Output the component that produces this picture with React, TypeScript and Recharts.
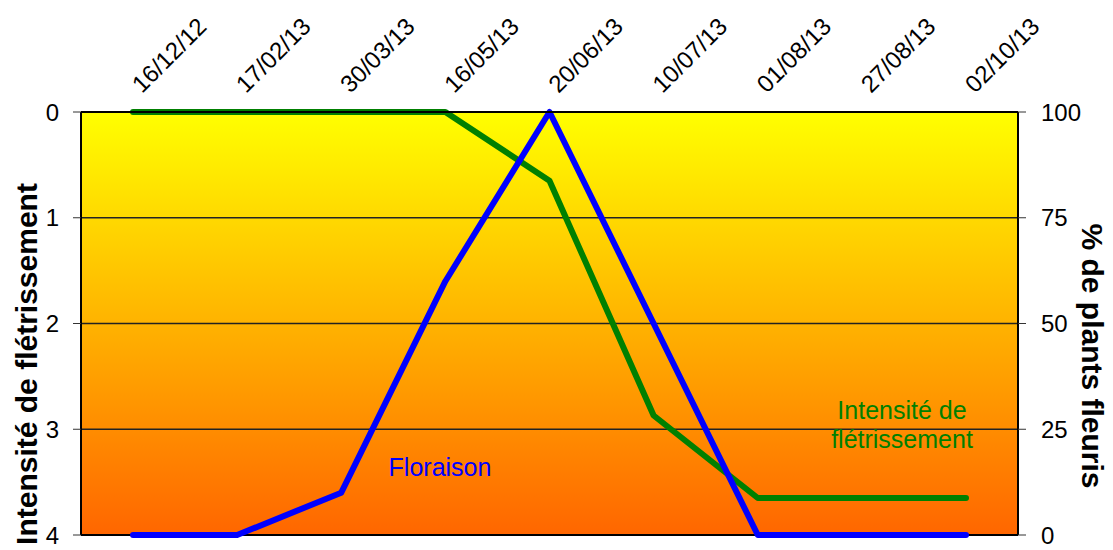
import { LineChart, Line, XAxis, YAxis, CartesianGrid, ReferenceLine, Customized } from "recharts"

const dates = ["16/12/12", "17/02/13", "30/03/13", "16/05/13", "20/06/13", "10/07/13", "01/08/13", "27/08/13", "02/10/13"]
const fletrissement = [0, 0, 0, 0, 0.65, 2.87, 3.65, 3.65, 3.65]
const floraison = [0, 0, 10, 60, 100, 50, 0, 0, 0]
const leftTicks = [0, 1, 2, 3, 4]
const rightTicks = [0, 25, 50, 75, 100]

const data = dates.map((date, i) => ({
  date,
  fletrissement: fletrissement[i],
  floraison: floraison[i],
}))

const FONT = "'Liberation Sans', Arial, sans-serif"

// rotated date labels above the plot
const DateTick = ({ x, y, payload }: any) => {
  const tx = x + 9
  const ty = y - 10
  return (
    <text
      x={tx}
      y={ty}
      transform={`rotate(-45, ${tx}, ${ty})`}
      textAnchor="start"
      fontSize={24}
      fontFamily={FONT}
      fill="#000"
    >
      {payload.value}
    </text>
  )
}

const Annotations = () => (
  <g fontFamily={FONT}>
    <text x={37} y={364} transform="rotate(-90, 37, 364)" textAnchor="middle" fontSize={30} fontWeight="bold" fill="#000">
      Intensité de flétrissement
    </text>
    <text x={1082} y={356} transform="rotate(90, 1082, 356)" textAnchor="middle" fontSize={30} fontWeight="bold" fill="#000">
      % de plants fleuris
    </text>
    <text x={440} y={476} textAnchor="middle" fontSize={25} fill="#0000ff">
      Floraison
    </text>
    <text x={902} y={419} textAnchor="middle" fontSize={25} fill="#008000">
      Intensité de
    </text>
    <text x={902} y={448} textAnchor="middle" fontSize={25} fill="#008000">
      flétrissement
    </text>
  </g>
)

export default function App() {
  return (
    <div style={{ position: "absolute", left: 0, top: 0, width: 1113, height: 550, background: "#fff" }}>
      <LineChart width={1113} height={550} data={data} margin={{ top: 32, right: 35, bottom: 15, left: 21 }}>
        <defs>
          <linearGradient id="bg" x1="0" y1="0" x2="0" y2="1">
            <stop offset="0%" stopColor="#ffff00" />
            <stop offset="100%" stopColor="#ff6600" />
          </linearGradient>
        </defs>
        <CartesianGrid
          yAxisId="left"
          vertical={false}
          stroke="#222"
          strokeWidth={1.3}
          fill="url(#bg)"
          fillOpacity={1}
        />
        <XAxis
          dataKey="date"
          orientation="top"
          height={80}
          padding={{ left: 52, right: 52 }}
          tickLine={false}
          axisLine={{ stroke: "#000", strokeWidth: 2 }}
          tick={<DateTick />}
          interval={0}
        />
        <YAxis
          yAxisId="left"
          domain={[0, 4]}
          ticks={leftTicks}
          reversed
          width={60}
          tickSize={8}
          tickMargin={14}
          tickLine={{ stroke: "#333" }}
          axisLine={{ stroke: "#000", strokeWidth: 2 }}
          tick={{ fill: "#000", fontSize: 24, fontFamily: FONT }}
        />
        <YAxis
          yAxisId="right"
          orientation="right"
          domain={[0, 100]}
          ticks={rightTicks}
          width={60}
          tickSize={8}
          tickMargin={15}
          tickLine={{ stroke: "#333" }}
          axisLine={{ stroke: "#000", strokeWidth: 2 }}
          tick={{ fill: "#000", fontSize: 24, fontFamily: FONT }}
        />
        <ReferenceLine yAxisId="left" y={4} stroke="#000" strokeWidth={2} />
        <Line
          yAxisId="left"
          dataKey="fletrissement"
          stroke="#008000"
          strokeWidth={6}
          strokeLinecap="round"
          strokeLinejoin="round"
          dot={false}
          isAnimationActive={false}
        />
        <Line
          yAxisId="right"
          dataKey="floraison"
          stroke="#0000ff"
          strokeWidth={6}
          strokeLinecap="round"
          strokeLinejoin="round"
          dot={false}
          isAnimationActive={false}
        />
        <Customized component={Annotations} />
      </LineChart>
    </div>
  )
}
